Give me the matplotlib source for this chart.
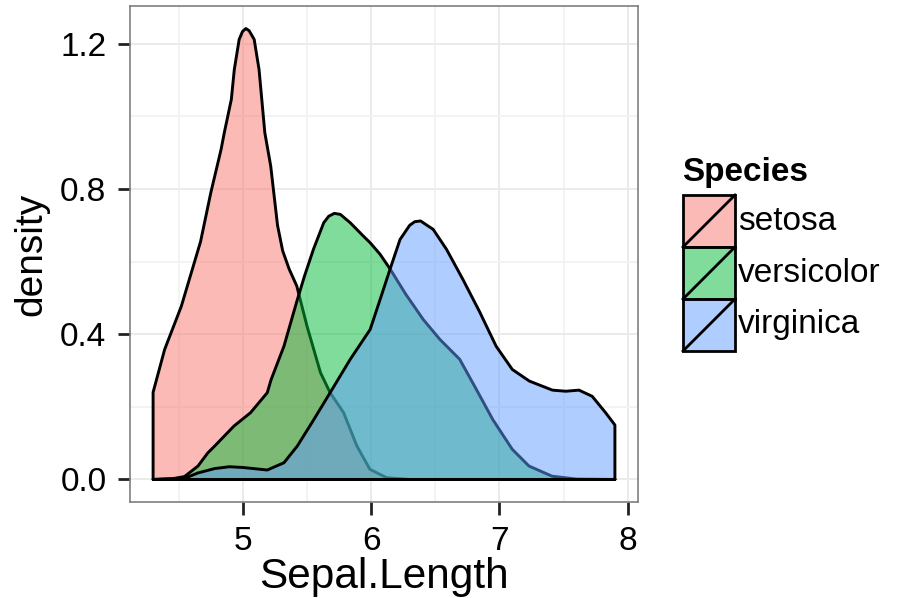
import matplotlib
matplotlib.use("Agg")
import matplotlib.pyplot as plt
from matplotlib.patches import Rectangle
from matplotlib.lines import Line2D

plt.rcParams['font.family'] = ['Liberation Sans', 'DejaVu Sans']

species = ["setosa", "versicolor", "virginica"]
colors = ["#F8766D", "#00BA38", "#619CFF"]

setosa_x = [4.30, 4.39, 4.52, 4.67, 4.75, 4.83, 4.855, 4.91, 4.933, 4.971, 4.997, 5.023,
            5.049, 5.088, 5.126, 5.171, 5.217, 5.27, 5.31, 5.36, 5.42, 5.50, 5.605, 5.68,
            5.785, 5.889, 5.99, 6.12, 6.30, 7.90]
setosa_y = [0.24, 0.358, 0.477, 0.655, 0.79, 0.909, 0.955, 1.047, 1.129, 1.212, 1.234, 1.242,
            1.236, 1.212, 1.129, 0.955, 0.863, 0.70, 0.63, 0.58, 0.533, 0.422, 0.294, 0.239,
            0.184, 0.092, 0.028, 0.005, 0.0, 0.0]

versicolor_x = [4.30, 4.45, 4.545, 4.65, 4.726, 4.78, 4.93, 5.06, 5.19, 5.22, 5.32,
                5.42, 5.48, 5.55, 5.63, 5.669, 5.713, 5.76, 5.837, 5.94, 5.992, 6.07,
                6.147, 6.27, 6.405, 6.535, 6.69, 6.82, 6.948, 7.10, 7.23, 7.41, 7.60, 7.90]
versicolor_y = [0.0, 0.002, 0.008, 0.037, 0.073, 0.092, 0.147, 0.184, 0.239, 0.275, 0.367,
                0.49, 0.56, 0.634, 0.707, 0.725, 0.733, 0.730, 0.707, 0.67, 0.652, 0.62,
                0.58, 0.51, 0.441, 0.386, 0.331, 0.248, 0.165, 0.083, 0.037, 0.009, 0.001, 0.0]

virginica_x = [4.30, 4.545, 4.65, 4.78, 4.894, 5.00, 5.19, 5.32, 5.424, 5.553, 5.68,
               5.837, 5.992, 6.07, 6.147, 6.225, 6.30, 6.34, 6.385, 6.444, 6.483, 6.587,
               6.715, 6.845, 6.974, 7.10, 7.233, 7.413, 7.517, 7.62, 7.723, 7.827, 7.90]
virginica_y = [0.0, 0.003, 0.018, 0.03, 0.035, 0.033, 0.026, 0.046, 0.092, 0.165, 0.239,
               0.331, 0.413, 0.496, 0.579, 0.661, 0.70, 0.71, 0.712, 0.698, 0.689, 0.634,
               0.551, 0.462, 0.367, 0.303, 0.271, 0.246, 0.243, 0.246, 0.229, 0.184, 0.15]

xs = [setosa_x, versicolor_x, virginica_x]
ys = [setosa_y, versicolor_y, virginica_y]

x_ticks = [5, 6, 7, 8]
x_minor = [4.5, 5.5, 6.5, 7.5]
y_ticks = [0.0, 0.4, 0.8, 1.2]
y_tick_labels = ["0.0", "0.4", "0.8", "1.2"]
y_minor = [0.2, 0.6, 1.0]

W, H = 903, 598
fig = plt.figure(figsize=(W / 100, H / 100), dpi=100)
L, R, T, B = 130, 638, 6, 502
ax = fig.add_axes([L / W, 1 - B / H, (R - L) / W, (B - T) / H])

for xv, yv, c in zip(xs, ys, colors):
    px = list(xv) + [xv[-1], xv[0]]
    py = list(yv) + [0.0, 0.0]
    ax.fill(px, py, facecolor=matplotlib.colors.to_rgba(c, 0.5),
            edgecolor="black", linewidth=2.1, joinstyle="round", zorder=3)

xmin, xmax = 4.3, 7.9
pad = 0.05 * (xmax - xmin)
ax.set_xlim(xmin - pad, xmax + pad)
ymax = 1.242
ax.set_ylim(-0.05 * ymax, ymax * 1.05)

ax.set_xticks(x_ticks)
ax.set_xticklabels([str(v) for v in x_ticks])
ax.set_yticks(y_ticks)
ax.set_yticklabels(y_tick_labels)
ax.set_xticks(x_minor, minor=True)
ax.set_yticks(y_minor, minor=True)
ax.grid(which="major", color="#EBEBEB", linewidth=1.4, zorder=0)
ax.grid(which="minor", color="#F3F3F3", linewidth=1.4, zorder=0)
ax.set_axisbelow(True)
ax.tick_params(which="minor", length=0)
ax.tick_params(which="major", length=9, width=2.0, color="#222222",
               labelsize=24, labelcolor="black", pad=8)
for s in ax.spines.values():
    s.set_color("#7F7F7F")
    s.set_linewidth(1.2)

ax.set_xlabel("Sepal.Length", fontsize=30.5, labelpad=0)
ax.set_ylabel("density", fontsize=28, labelpad=8)

# legend drawn in pixel coordinates
lax = fig.add_axes([0, 0, 1, 1], facecolor="none")
lax.set_xlim(0, W)
lax.set_ylim(H, 0)
lax.axis("off")
lax.text(682, 172, "Species", fontsize=24, fontweight="bold", va="center", ha="left")
key_top = 195
key_h = 52
key_w = 52
kx = 683
for i, (name, c) in enumerate(zip(species, colors)):
    ty = key_top + i * key_h
    lax.add_patch(Rectangle((kx, ty), key_w, key_h,
                            facecolor=matplotlib.colors.to_rgba(c, 0.5),
                            edgecolor="black", linewidth=2.0))
    lax.add_line(Line2D([kx, kx + key_w], [ty + key_h, ty], color="black", linewidth=2.0))
    lax.text(kx + key_w + 3, ty + key_h / 2, name, fontsize=24, va="center", ha="left")

fig.savefig("out.png", dpi=100)
